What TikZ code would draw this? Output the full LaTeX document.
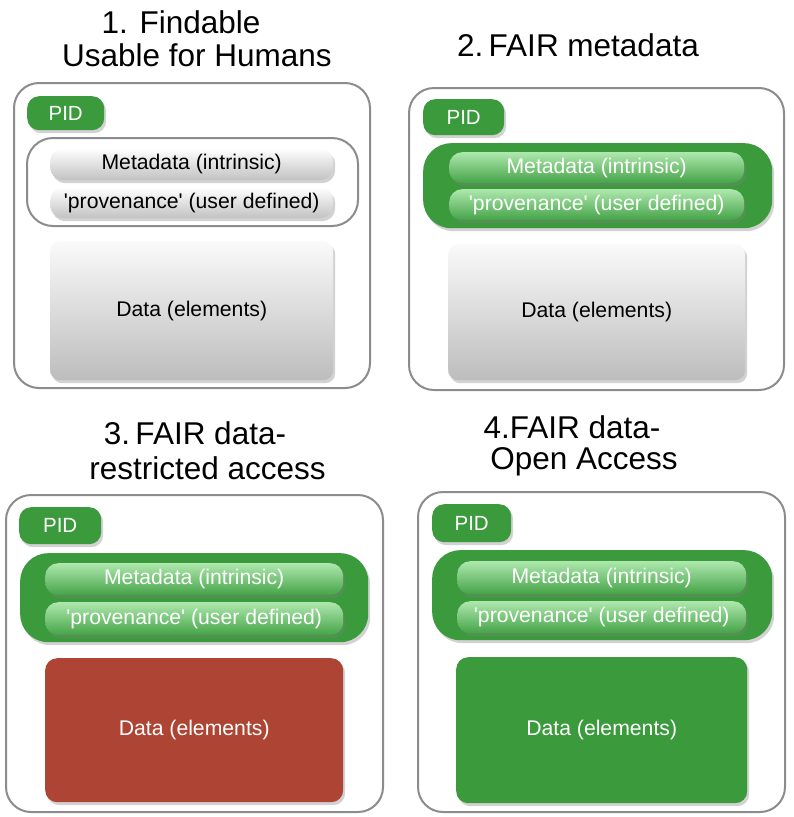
\documentclass[tikz,border=0pt]{standalone}
\usepackage{fontspec}
\setmainfont{Liberation Sans}
\usetikzlibrary{shadows}
\definecolor{fgreen}{HTML}{3A9A3C}
\definecolor{lgtop}{HTML}{AEE8AE}
\definecolor{lgbot}{HTML}{45A347}
\definecolor{fred}{HTML}{AE4433}
\definecolor{frame}{HTML}{8C8C8C}
\newcommand{\sq}{\textquotesingle}
\tikzset{
  shd/.style={drop shadow={opacity=0.35,shadow xshift=2pt,shadow yshift=-3pt}},
  outerbox/.style={draw=frame,line width=2pt,rounded corners=25pt,fill=white,anchor=north west,inner sep=0pt},
  pidbox/.style={fill=fgreen,rounded corners=12pt,anchor=north west,text=white,font=\fontsize{20.5}{22}\selectfont,shd},
  grpgray/.style={draw=frame,line width=2pt,rounded corners=26pt,fill=white,anchor=north west},
  grpgreen/.style={fill=fgreen,rounded corners=28pt,anchor=north west,shd},
  barg/.style={top color=white,bottom color=black!24,rounded corners=13pt,anchor=north west,font=\fontsize{21.2}{22}\selectfont,shd},
  bargr/.style={top color=lgtop,bottom color=lgbot,rounded corners=13pt,anchor=north west,text=white,font=\fontsize{21.2}{22}\selectfont,shd},
  datag/.style={top color=black!2,bottom color=black!26,rounded corners=10pt,anchor=north west,font=\fontsize{21.2}{22}\selectfont,shd},
  datar/.style={fill=fred,rounded corners=12pt,anchor=north west,text=white,font=\fontsize{21.2}{22}\selectfont,shd},
  datagr/.style={fill=fgreen,rounded corners=12pt,anchor=north west,text=white,font=\fontsize{21.2}{22}\selectfont,shd},
  ttl/.style={font=\fontsize{31.5}{34}\selectfont,inner sep=0pt}
}
\begin{document}
\begin{tikzpicture}[x=1pt,y=-1pt]
\useasboundingbox (0,0) rectangle (794,817);
% ---------- Panel 1
\node[ttl] (t1a) at (181,22) {1. Findable};
\node[ttl] (t1b) at (197,55) {Usable for Humans};
\node[outerbox,minimum width=356pt,minimum height=305pt] (o1) at (13,82) {};
\node[pidbox,minimum width=77pt,minimum height=34pt] (p1) at (27,96) {PID};
\node[grpgray,minimum width=331pt,minimum height=88pt] (g1) at (26,137) {};
\node[barg,minimum width=283pt,minimum height=32pt] (m1) at (50,148) {Metadata (intrinsic)};
\node[barg,minimum width=283pt,minimum height=31pt] (v1) at (50,187) {\sq provenance\sq{} (user defined)};
\node[datag,minimum width=283pt,minimum height=139pt] (d1) at (50,241) {Data (elements)};
% ---------- Panel 2
\node[ttl] (t2a) at (578,45) {2.\,FAIR metadata};
\node[outerbox,minimum width=375pt,minimum height=302pt] (o2) at (408,87) {};
\node[pidbox,minimum width=81pt,minimum height=36pt] (p2) at (423,99) {PID};
\node[grpgreen,minimum width=349pt,minimum height=85pt] (g2) at (423,143) {};
\node[bargr,minimum width=295pt,minimum height=31pt] (m2) at (449,152) {Metadata (intrinsic)};
\node[bargr,minimum width=295pt,minimum height=31pt] (v2) at (449,189) {\sq provenance\sq{} (user defined)};
\node[datag,minimum width=297pt,minimum height=136pt] (d2) at (448,244) {Data (elements)};
% ---------- Panel 3
\node[ttl] (t3a) at (195,433) {3.\,FAIR data-};
\node[ttl] (t3b) at (207.5,468) {restricted access};
\node[outerbox,minimum width=377pt,minimum height=317pt] (o3) at (5,494) {};
\node[pidbox,minimum width=82pt,minimum height=37pt] (p3) at (19,507) {PID};
\node[grpgreen,minimum width=348pt,minimum height=89pt] (g3) at (20,553) {};
\node[bargr,minimum width=298pt,minimum height=32pt] (m3) at (45,563) {Metadata (intrinsic)};
\node[bargr,minimum width=298pt,minimum height=33pt] (v3) at (45,602) {\sq provenance\sq{} (user defined)};
\node[datar,minimum width=298pt,minimum height=144pt] (d3) at (45,658) {Data (elements)};
% ---------- Panel 4
\node[ttl] (t4a) at (572,427) {4.FAIR data-};
\node[ttl] (t4b) at (584,462) {Open Access};
\node[outerbox,minimum width=367pt,minimum height=320pt] (o4) at (417,491) {};
\node[pidbox,minimum width=79pt,minimum height=38pt] (p4) at (432,504) {PID};
\node[grpgreen,minimum width=340pt,minimum height=90pt] (g4) at (432,550) {};
\node[bargr,minimum width=289pt,minimum height=33pt] (m4) at (457,561) {Metadata (intrinsic)};
\node[bargr,minimum width=289pt,minimum height=32pt] (v4) at (457,601) {\sq provenance\sq{} (user defined)};
\node[datagr,minimum width=291pt,minimum height=146pt] (d4) at (456,657) {Data (elements)};
\end{tikzpicture}
\end{document}
